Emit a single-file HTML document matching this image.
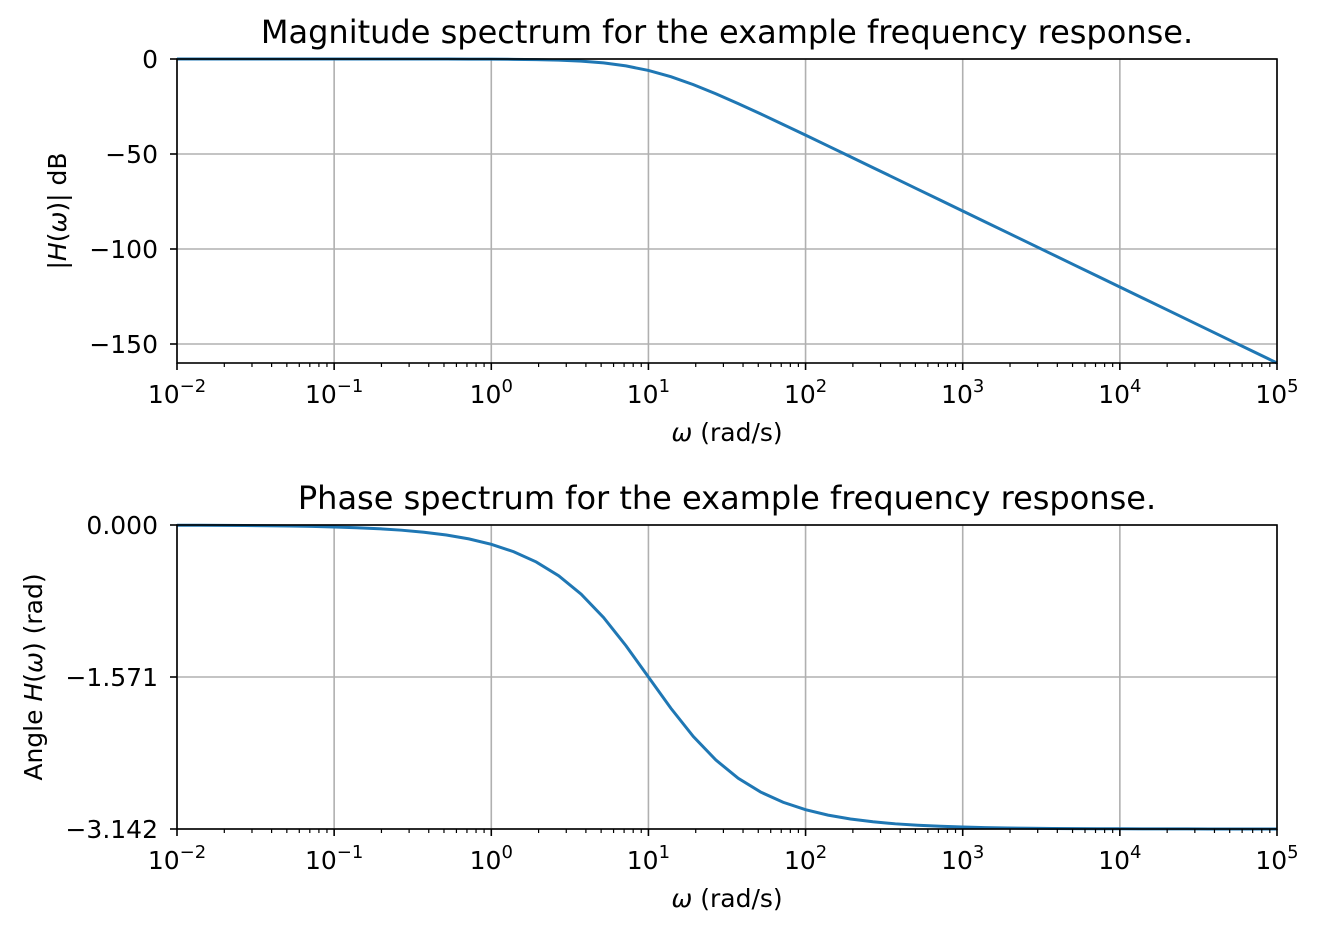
<!DOCTYPE html>
<html><head><meta charset="utf-8"><style>
html,body{margin:0;padding:0;background:#fff;}
svg text{font-family:"DejaVu Sans","Liberation Sans",sans-serif;fill:#000;}
</style></head><body>
<svg id="s" width="1319" height="934" xmlns="http://www.w3.org/2000/svg"></svg>
<script>
const s=document.getElementById('s');let h='';
const X0=177,X1=1277,dec=(X1-X0)/7;
function xp(w){return X0+(Math.log10(w)+2)*dec;}
function axes(top,bot,yt,ymin,ymax,title,ylabel,f){
  const yp=v=>top+(ymax-v)/(ymax-ymin)*(bot-top);
  for(let d=0;d<=7;d++){const x=X0+d*dec;h+=`<line x1="${x}" y1="${top}" x2="${x}" y2="${bot}" stroke="#b0b0b0" stroke-width="1.6"/>`;}
  yt.forEach(t=>{const y=yp(t[0]);h+=`<line x1="${X0}" y1="${y}" x2="${X1}" y2="${y}" stroke="#b0b0b0" stroke-width="1.6"/>`;
    h+=`<line x1="${X0-7}" y1="${y}" x2="${X0}" y2="${y}" stroke="#000" stroke-width="1.6"/><text x="${X0-19}" y="${y+9}" font-size="25" text-anchor="end">${t[1]}</text>`;});
  let p='';for(let i=0;i<50;i++){const w=Math.pow(10,-2+7*i/49);const v=f(w);p+=(i?'L':'M')+xp(w).toFixed(2)+','+yp(v).toFixed(2);}
  h+=`<path d="${p}" fill="none" stroke="#1f77b4" stroke-width="3"/>`;
  h+=`<rect x="${X0}" y="${top}" width="${X1-X0}" height="${bot-top}" fill="none" stroke="#000" stroke-width="1.6"/>`;
  for(let d=0;d<=7;d++){const x=X0+d*dec;h+=`<line x1="${x}" y1="${bot}" x2="${x}" y2="${bot+7}" stroke="#000" stroke-width="1.6"/>`;
    const e=d-2;h+=`<text x="${x}" y="${bot+40}" font-size="25" text-anchor="middle">10<tspan font-size="18" dy="-11">${e<0?'\u2212'+(-e):e}</tspan></text>`;
    if(d<7)for(let m=2;m<10;m++){const xm=x+Math.log10(m)*dec;h+=`<line x1="${xm}" y1="${bot}" x2="${xm}" y2="${bot+4}" stroke="#000" stroke-width="1.2"/>`;}}
  h+=`<text x="${(X0+X1)/2}" y="${bot+78}" font-size="25" text-anchor="middle"><tspan font-style="italic">ω</tspan> (rad/s)</text>`;
  h+=`<text x="${(X0+X1)/2}" y="${top-16}" font-size="32" text-anchor="middle">${title}</text>`;
  const cy=(top+bot)/2;h+=`<text transform="translate(${ylabel[0]},${cy}) rotate(-90)" font-size="25" text-anchor="middle">${ylabel[1]}</text>`;
}
axes(59,363,[[0,'0'],[-50,'\u221250'],[-100,'\u2212100'],[-150,'\u2212150']],-160,0,
 'Magnitude spectrum for the example frequency response.',[66,'|<tspan font-style="italic">H</tspan>(<tspan font-style="italic">ω</tspan>)| dB'],
 w=>20*Math.log10(100/(w*w+100)));
axes(525,829,[[0,'0.000'],[-Math.PI/2,'\u22121.571'],[-Math.PI,'\u22123.142']],-Math.PI,0,
 'Phase spectrum for the example frequency response.',[42,'Angle <tspan font-style="italic">H</tspan>(<tspan font-style="italic">ω</tspan>) (rad)'],
 w=>-2*Math.atan(w/10));
s.innerHTML=h;
</script>
</body></html>
